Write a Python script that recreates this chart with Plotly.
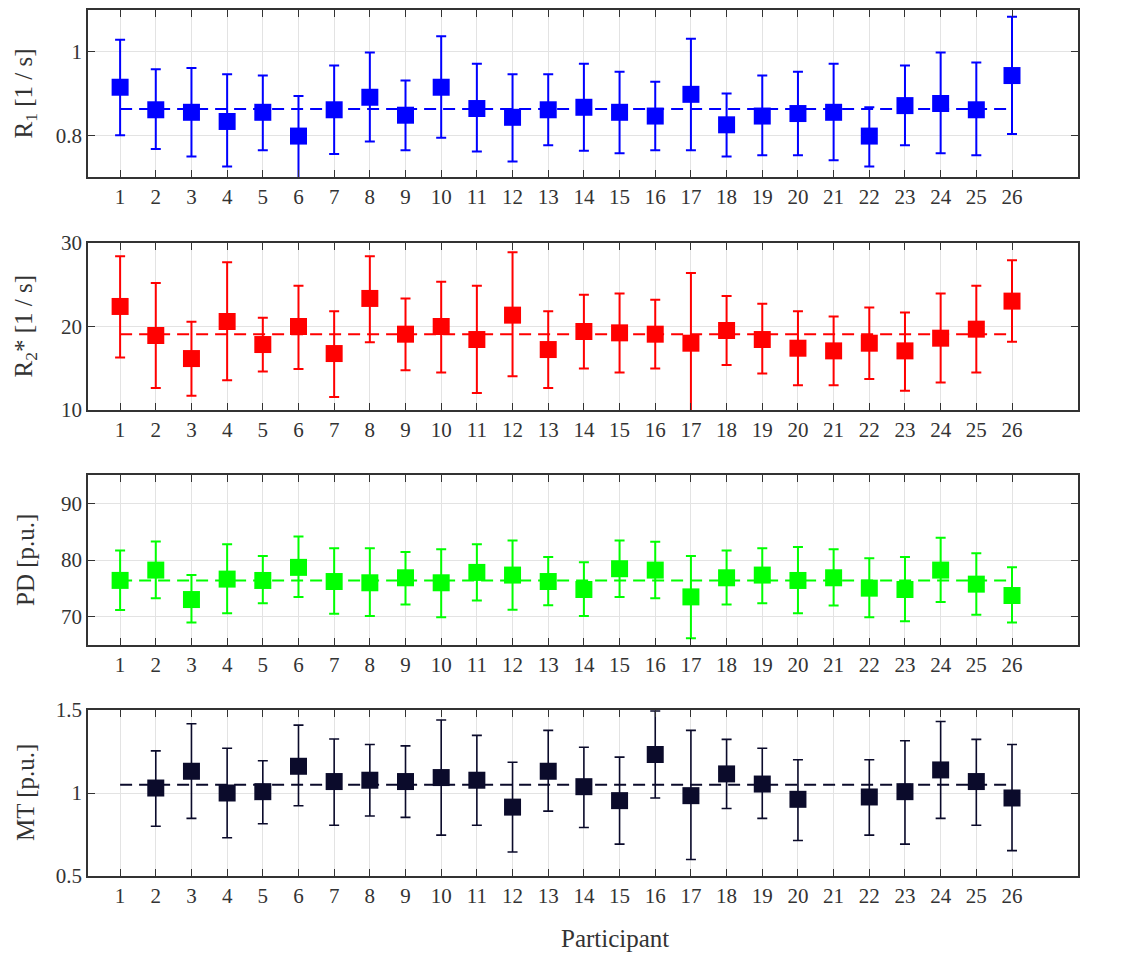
import plotly.graph_objects as go

participants = list(range(1, 27))

# R1 [1/s]
r1_val = [0.915, 0.861, 0.855, 0.833, 0.855, 0.798, 0.861, 0.891, 0.848, 0.915, 0.864, 0.843, 0.861,
          0.867, 0.855, 0.846, 0.898, 0.825, 0.846, 0.852, 0.855, 0.798, 0.871, 0.876, 0.861, 0.943]
r1_up = [1.029, 0.958, 0.961, 0.946, 0.943, 0.894, 0.967, 0.998, 0.931, 1.037, 0.971, 0.946, 0.946,
         0.971, 0.952, 0.928, 1.031, 0.900, 0.943, 0.952, 0.971, 0.867, 0.967, 0.998, 0.974, 1.084]
r1_lo = [0.800, 0.767, 0.749, 0.725, 0.764, 0.690, 0.755, 0.785, 0.764, 0.794, 0.761, 0.737, 0.776,
         0.763, 0.757, 0.764, 0.764, 0.749, 0.752, 0.752, 0.740, 0.725, 0.776, 0.757, 0.752, 0.803]
r1_mean = 0.863

# R2* [1/s]
r2_val = [22.4, 18.92, 16.16, 20.6, 17.84, 20.0, 16.76, 23.36, 19.08, 20.0, 18.44, 21.36, 17.24,
          19.4, 19.24, 19.08, 18.0, 19.52, 18.44, 17.4, 17.08, 18.0, 17.08, 18.6, 19.68, 23.04]
r2_up = [28.4, 25.2, 20.56, 27.68, 21.04, 24.88, 21.84, 28.4, 23.36, 25.36, 24.88, 28.88, 21.84,
         23.8, 23.96, 23.2, 26.4, 23.64, 22.72, 21.84, 21.2, 22.28, 21.68, 23.96, 24.88, 27.92]
r2_lo = [16.28, 12.64, 11.72, 13.56, 14.6, 14.92, 11.56, 18.12, 14.76, 14.48, 12.04, 14.04, 12.64,
         14.96, 14.48, 14.96, 9.6, 15.4, 14.36, 12.96, 12.96, 13.72, 12.32, 13.28, 14.48, 18.16]
r2_mean = 19.08

# PD [p.u.]
pd_val = [76.4, 78.22, 73.02, 76.63, 76.39, 78.7, 76.2, 75.98, 76.86, 75.98, 77.81, 77.34, 76.2,
          74.79, 78.46, 78.22, 73.49, 76.86, 77.34, 76.39, 76.86, 75.03, 74.79, 78.22, 75.74, 73.73]
pd_up = [81.66, 83.25, 77.34, 82.78, 80.71, 84.14, 82.07, 82.07, 81.42, 81.89, 82.78, 83.43, 80.53,
         79.59, 83.43, 83.2, 80.71, 81.66, 82.07, 82.31, 81.89, 80.3, 80.53, 83.91, 81.18, 78.7]
pd_lo = [71.18, 73.25, 68.99, 70.59, 72.37, 73.49, 70.53, 70.12, 72.13, 69.88, 72.84, 71.24, 72.01,
         70.12, 73.49, 73.25, 66.21, 72.13, 72.37, 70.59, 71.95, 69.88, 69.17, 72.6, 70.36, 68.99]
pd_mean = 76.39

# MT [p.u.] (participants 1 and 21 missing)
mt_val = [None, 1.03, 1.131, 1.0, 1.008, 1.161, 1.069, 1.077, 1.069, 1.093, 1.077, 0.915, 1.131,
          1.038, 0.954, 1.232, 0.984, 1.115, 1.054, 0.962, None, 0.976, 1.008, 1.139, 1.069, 0.97]
mt_up = [None, 1.254, 1.417, 1.27, 1.194, 1.409, 1.325, 1.292, 1.284, 1.44, 1.347, 1.185, 1.377,
         1.276, 1.216, 1.494, 1.377, 1.323, 1.27, 1.2, None, 1.2, 1.315, 1.431, 1.323, 1.292]
mt_lo = [None, 0.80, 0.847, 0.73, 0.815, 0.923, 0.806, 0.861, 0.853, 0.746, 0.806, 0.645, 0.891,
         0.792, 0.692, 0.97, 0.599, 0.907, 0.847, 0.714, None, 0.746, 0.692, 0.847, 0.806, 0.653]
mt_mean = 1.05

y_titles = ["R<sub>1</sub> [1 / s]", "R<sub>2</sub>* [1 / s]", "PD [p.u.]", "MT [p.u.]"]
y_ranges = [[0.7, 1.1], [10, 30], [65, 95], [0.5, 1.5]]
y_ticks = [[0.8, 1.0], [10, 20, 30], [70, 80, 90], [0.5, 1.0, 1.5]]
y_ticktext = [["0.8", "1"], ["10", "20", "30"], ["70", "80", "90"], ["0.5", "1", "1.5"]]
colors = ["#0000FF", "#FF0000", "#00FF00", "#0B0B2B"]
x_title = "Participant"

series = [
    (r1_val, r1_up, r1_lo, r1_mean),
    (r2_val, r2_up, r2_lo, r2_mean),
    (pd_val, pd_up, pd_lo, pd_mean),
    (mt_val, mt_up, mt_lo, mt_mean),
]

# page body adds an 8px offset; positions below are in page pixels
OFF = 8
W, H = 1146, 954
ML, MT_ = 88 - OFF, 10 - OFF
MR = W - (1078 - OFF)
MB = H - (876 - OFF)
ph = H - MT_ - MB
pw = W - ML - MR
panel_px = [(10, 177), (243, 410), (475, 645), (710, 876)]
domains = [[1 - (b - OFF - MT_) / ph, 1 - (t - OFF - MT_) / ph] for t, b in panel_px]

FONT = "Liberation Serif"
fig = go.Figure()
layout = {}
for i, (vals, up, lo, mean) in enumerate(series):
    ax = "" if i == 0 else str(i + 1)
    col = colors[i]
    plus = [None if v is None else u - v for v, u in zip(vals, up)]
    minus = [None if v is None else v - l for v, l in zip(vals, lo)]
    fig.add_trace(go.Scatter(
        x=participants, y=[mean] * len(participants), mode="lines",
        line=dict(color=col, width=2, dash="12px,7px"),
        xaxis="x" + ax, yaxis="y" + ax, showlegend=False, hoverinfo="skip"))
    fig.add_trace(go.Scatter(
        x=participants, y=vals, mode="markers",
        marker=dict(symbol="square", size=17, color=col, line=dict(width=0)),
        error_y=dict(type="data", symmetric=False, array=plus, arrayminus=minus,
                     color=col, thickness=2 if i < 3 else 1.6, width=5),
        xaxis="x" + ax, yaxis="y" + ax, showlegend=False))
    common = dict(showline=True, linecolor="#333333", linewidth=1.5, mirror="ticks",
                  ticks="inside", ticklen=7, tickcolor="#333333", tickwidth=1.3,
                  showgrid=True, gridcolor="#E3E3E3", gridwidth=1, zeroline=False,
                  automargin=False,
                  tickfont=dict(family=FONT, size=21, color="#333333"))
    layout["xaxis" + ax] = dict(common, domain=[0, 1], range=[0.1, 27.85],
                                tickvals=participants, anchor="y" + ax)
    layout["yaxis" + ax] = dict(common, domain=domains[i], range=y_ranges[i],
                                tickvals=y_ticks[i], ticktext=y_ticktext[i], anchor="x" + ax)

annotations = []
for i, t in enumerate(y_titles):
    annotations.append(dict(text=t, xref="paper", yref="paper",
                            x=(25 - OFF - ML) / pw, y=sum(domains[i]) / 2,
                            xanchor="center", yanchor="middle", textangle=-90, showarrow=False,
                            font=dict(family=FONT, size=25, color="#333333")))
annotations.append(dict(text=x_title, xref="paper", yref="paper",
                        x=(615 - OFF - ML) / pw, y=-(938 - OFF - (H - MB)) / ph,
                        xanchor="center", yanchor="middle", showarrow=False,
                        font=dict(family=FONT, size=25, color="#333333")))

fig.update_layout(width=W, height=H, margin=dict(l=ML, r=MR, t=MT_, b=MB),
                  plot_bgcolor="white", paper_bgcolor="white",
                  annotations=annotations, **layout)
fig.write_html("out.html")
